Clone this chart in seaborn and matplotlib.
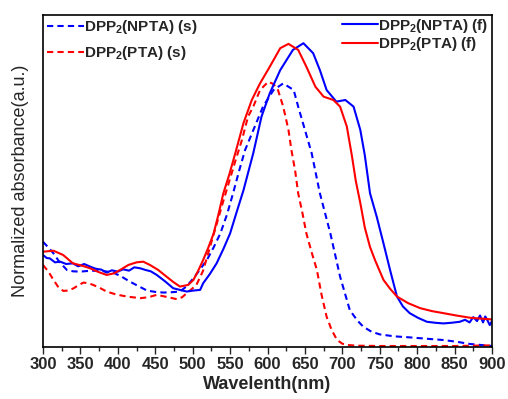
import numpy as np
import pandas as pd
import matplotlib
matplotlib.use("Agg")
import matplotlib.pyplot as plt
import seaborn as sns

# ---------------------------------------------------------------
# datos (absorbancia normalizada, 0..1)
# ---------------------------------------------------------------
# DPP2(NPTA) pelicula
wl_npta_f = [300, 305, 309, 316, 323, 331, 340, 347, 355, 363, 370, 378, 385, 392,
             400, 407, 415, 422, 430, 437, 444, 452, 463, 474, 483, 492, 501, 510,
             514, 523, 532, 541, 550, 559, 568, 581, 592, 603, 617, 634, 648, 661,
             670, 679, 692, 704, 715, 724, 730, 737, 746, 755, 764, 773, 781, 790,
             801, 813, 824, 835, 846, 857, 864, 870, 875, 880, 884, 888, 891, 894,
             897, 900]
abs_npta_f = [0.277, 0.268, 0.267, 0.255, 0.257, 0.250, 0.252, 0.243, 0.250, 0.242,
              0.236, 0.233, 0.224, 0.231, 0.227, 0.234, 0.230, 0.240, 0.237, 0.232,
              0.228, 0.217, 0.198, 0.177, 0.172, 0.167, 0.170, 0.172, 0.192, 0.220,
              0.252, 0.295, 0.342, 0.408, 0.473, 0.584, 0.694, 0.764, 0.834, 0.895,
              0.915, 0.885, 0.834, 0.774, 0.739, 0.744, 0.724, 0.654, 0.578, 0.463,
              0.392, 0.312, 0.230, 0.152, 0.122, 0.102, 0.088, 0.076, 0.073, 0.071,
              0.073, 0.076, 0.082, 0.074, 0.090, 0.078, 0.095, 0.074, 0.092, 0.080,
              0.066, 0.078]

# DPP2(PTA) pelicula
wl_pta_f = [300, 314, 327, 340, 352, 363, 374, 385, 395, 403, 414, 425, 434, 443,
            454, 465, 474, 483, 494, 501, 507, 514, 521, 528, 534, 541, 549, 557,
            568, 579, 590, 603, 617, 628, 641, 652, 664, 675, 688, 697, 706, 713,
            718, 724, 730, 737, 744, 755, 764, 773, 788, 804, 820, 835, 852, 871, 900]
abs_pta_f = [0.287, 0.290, 0.277, 0.252, 0.245, 0.237, 0.226, 0.217, 0.222, 0.232,
             0.247, 0.255, 0.257, 0.247, 0.232, 0.212, 0.196, 0.182, 0.187, 0.202,
             0.228, 0.262, 0.300, 0.342, 0.395, 0.463, 0.520, 0.584, 0.675, 0.744,
             0.794, 0.844, 0.900, 0.913, 0.895, 0.844, 0.784, 0.754, 0.744, 0.724,
             0.664, 0.573, 0.500, 0.434, 0.360, 0.301, 0.260, 0.202, 0.175, 0.152,
             0.132, 0.117, 0.108, 0.102, 0.095, 0.088, 0.083]

# DPP2(NPTA) solucion
wl_npta_s = [300, 307, 314, 322, 332, 340, 349, 360, 372, 383, 394, 405, 416, 427,
             439, 450, 461, 472, 483, 492, 501, 510, 519, 528, 537, 546, 554, 562,
             570, 583, 594, 608, 621, 635, 641, 650, 659, 670, 684, 697, 710, 720,
             728, 739, 750, 770, 790, 812, 835, 852, 871, 900]
abs_npta_s = [0.317, 0.300, 0.282, 0.256, 0.232, 0.228, 0.227, 0.229, 0.230, 0.228,
              0.224, 0.212, 0.197, 0.184, 0.170, 0.166, 0.164, 0.165, 0.167, 0.183,
              0.207, 0.234, 0.262, 0.300, 0.342, 0.400, 0.463, 0.530, 0.593, 0.664,
              0.724, 0.774, 0.794, 0.774, 0.724, 0.654, 0.584, 0.463, 0.342, 0.212,
              0.111, 0.080, 0.061, 0.046, 0.038, 0.032, 0.029, 0.025, 0.021, 0.016,
              0.009, 0.003]

# DPP2(PTA) solucion
wl_pta_s = [300, 307, 314, 320, 327, 334, 341, 348, 354, 361, 367, 376, 385, 398,
            412, 430, 441, 452, 465, 479, 486, 492, 499, 505, 514, 523, 532, 541,
            549, 557, 566, 574, 581, 590, 601, 608, 614, 621, 628, 632, 637, 641,
            647, 652, 659, 666, 672, 679, 686, 693, 700, 706, 720, 750, 800, 850, 900]
abs_pta_s = [0.247, 0.228, 0.202, 0.182, 0.169, 0.170, 0.177, 0.187, 0.194, 0.192,
             0.187, 0.178, 0.167, 0.158, 0.152, 0.147, 0.150, 0.157, 0.151, 0.144,
             0.150, 0.162, 0.175, 0.187, 0.230, 0.300, 0.370, 0.440, 0.500, 0.560,
             0.625, 0.694, 0.724, 0.774, 0.799, 0.792, 0.774, 0.724, 0.654, 0.593,
             0.530, 0.463, 0.400, 0.342, 0.285, 0.232, 0.160, 0.091, 0.050, 0.021,
             0.010, 0.006, 0.004, 0.003, 0.003, 0.003, 0.005]

etiquetas = {
    "npta_s": r"DPP$_\mathbf{2}$(NPTA) (s)",
    "pta_s": r"DPP$_\mathbf{2}$(PTA) (s)",
    "npta_f": r"DPP$_\mathbf{2}$(NPTA) (f)",
    "pta_f": r"DPP$_\mathbf{2}$(PTA) (f)",
}

sns.set_style("ticks")
plt.rcParams["font.family"] = ["Liberation Sans", "DejaVu Sans"]
plt.rcParams["mathtext.fontset"] = "custom"
plt.rcParams["mathtext.rm"] = "Liberation Sans"
plt.rcParams["mathtext.bf"] = "Liberation Sans:bold"

fig = plt.figure(figsize=(5.08, 3.99), dpi=100)
ax = fig.add_axes([43 / 508, 52 / 399, 449 / 508, 332 / 399])

azul = "#0000ff"
rojo = "#ff0000"

# primero las soluciones (discontinuas), luego las peliculas
sns.lineplot(x=wl_npta_s, y=abs_npta_s, ax=ax, color=azul, lw=1.5)
sns.lineplot(x=wl_pta_s, y=abs_pta_s, ax=ax, color=rojo, lw=1.5)
sns.lineplot(x=wl_npta_f, y=abs_npta_f, ax=ax, color=azul, lw=1.5)
sns.lineplot(x=wl_pta_f, y=abs_pta_f, ax=ax, color=rojo, lw=1.5)

lineas = ax.get_lines()
for ln in lineas[:2]:
    ln.set_dashes((3, 2))

ax.set_xlim(300, 900)
ax.set_ylim(0, 1)
ax.set_xticks(np.arange(300, 901, 50))
ax.set_xticks(np.arange(325, 900, 50), minor=True)
ax.set_yticks([])
ax.tick_params(axis="x", which="major", length=5, width=1, direction="out",
               labelsize=12, pad=2)
ax.tick_params(axis="x", which="minor", length=3, width=1, direction="out")
for t in ax.get_xticklabels():
    t.set_fontweight("bold")
for s in ax.spines.values():
    s.set_linewidth(1.2)
    s.set_color("black")

ax.set_xlabel("Wavelenth(nm)", fontsize=13, fontweight="bold", labelpad=3)
ax.set_ylabel("Normalized absorbance(a.u.)", fontsize=13, labelpad=10)

# leyenda de soluciones (izquierda)
leg1 = ax.legend(lineas[:2], [etiquetas["npta_s"], etiquetas["pta_s"]],
                 loc="upper left", bbox_to_anchor=(0.01, 0.99), frameon=False,
                 prop={"size": 11, "weight": "bold"}, handlelength=2.4,
                 handletextpad=0, borderpad=0, borderaxespad=0, labelspacing=0.5)
ax.add_artist(leg1)
# leyenda de peliculas (derecha)
ax.legend(lineas[2:], [etiquetas["npta_f"], etiquetas["pta_f"]],
          loc="upper left", bbox_to_anchor=(0.665, 0.995), frameon=False,
          prop={"size": 11, "weight": "bold"}, handlelength=2.4,
          handletextpad=0, borderpad=0, borderaxespad=0, labelspacing=0.02)

plt.savefig("out.png", dpi=100)
plt.close()
